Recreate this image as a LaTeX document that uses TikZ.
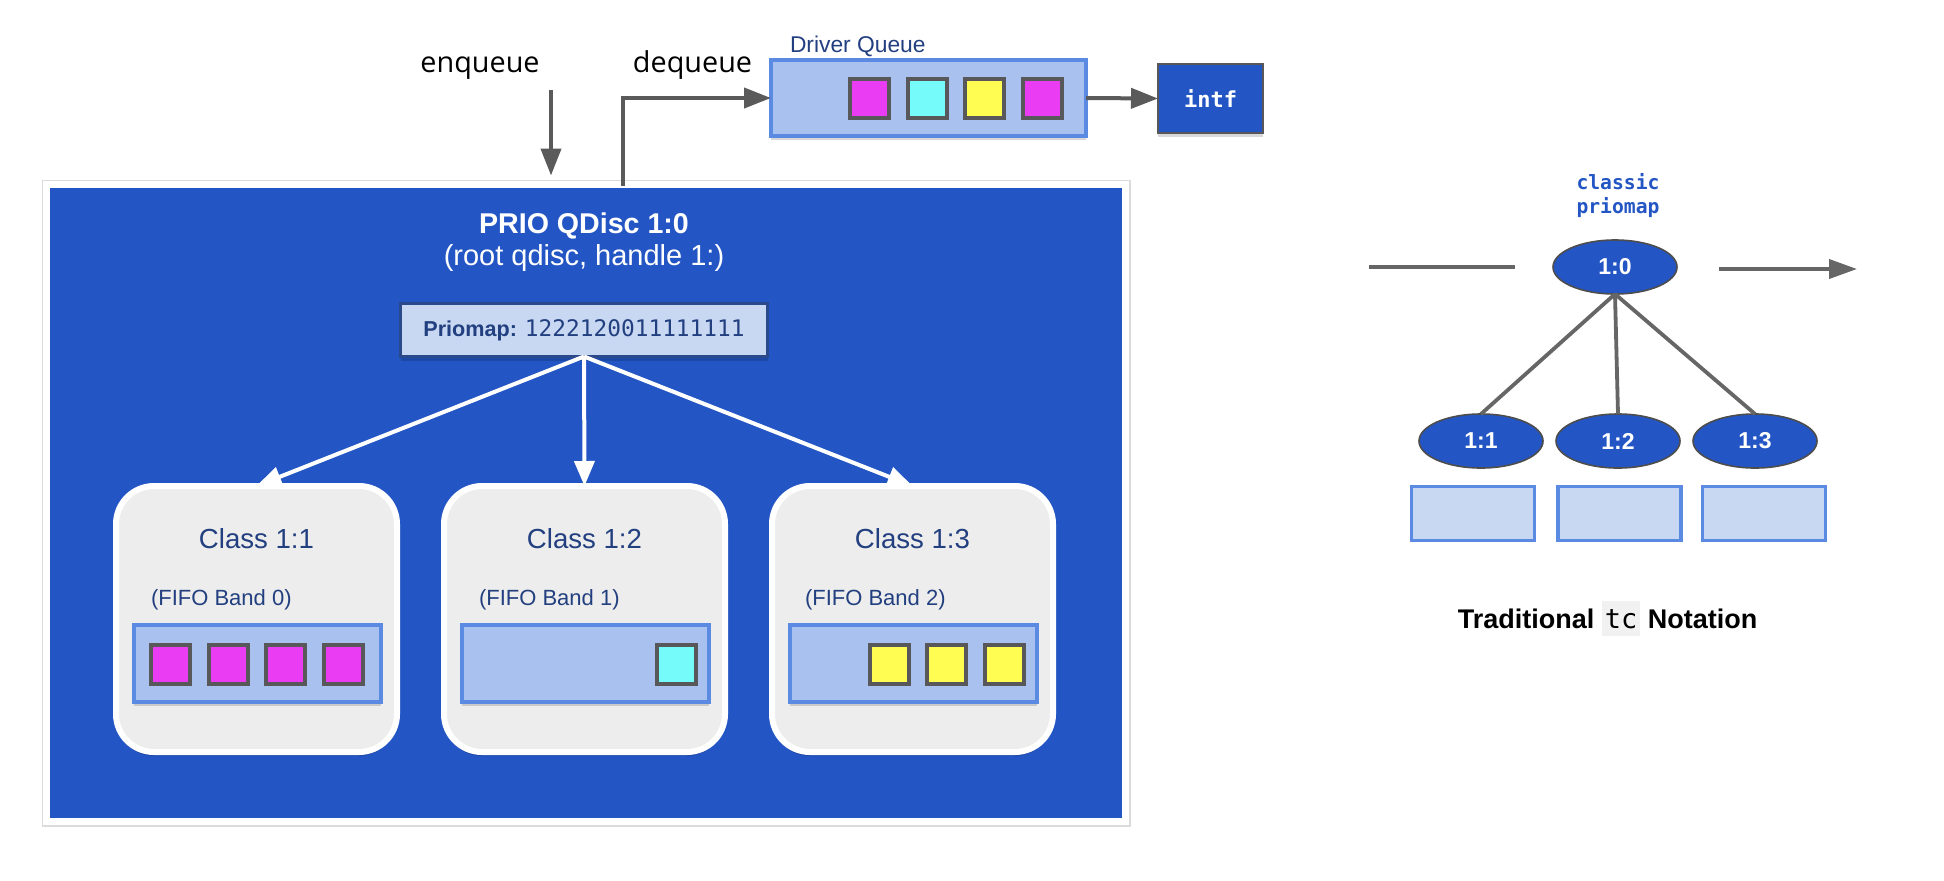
\documentclass[tikz,border=0pt]{standalone}
\usepackage{fontspec}
\setmainfont{Liberation Sans}
\newfontfamily\osans{Open Sans}
\newfontfamily\monof{DejaVu Sans Mono}
\usetikzlibrary{arrows.meta,shapes.geometric,shadows,calc}
\definecolor{qblue}{HTML}{2356C4}
\definecolor{qfill}{HTML}{A9C1EF}
\definecolor{qborder}{HTML}{5A8AE2}
\definecolor{pale}{HTML}{C9D8F2}
\definecolor{navytext}{HTML}{223F7F}
\definecolor{pmborder}{HTML}{2B4A8B}
\definecolor{sqgray}{HTML}{58585A}
\definecolor{pmag}{HTML}{E93CF3}
\definecolor{pcyan}{HTML}{76FBFB}
\definecolor{pyel}{HTML}{FFFD51}
\definecolor{agray}{HTML}{5A5A5A}
\definecolor{tgray}{HTML}{666666}
\definecolor{ellgray}{HTML}{4D4D4D}
\definecolor{classgray}{HTML}{EDEDED}
\definecolor{codebg}{HTML}{F1F1F1}
\newcommand\fsz[1]{\fontsize{#1pt}{#1pt}\selectfont}
\newcommand\tcbg[1]{{\setlength{\fboxsep}{0pt}\colorbox{codebg}{\rule[-4pt]{0pt}{17.5pt}\hspace{1.5pt}{\monof\mdseries #1}\hspace{1.5pt}}}}
\begin{document}
\begin{tikzpicture}[x=0.5pt,y=-0.5pt,
  every node/.style={inner sep=0pt,outer sep=0pt},
  shad/.style={drop shadow={shadow xshift=0pt,shadow yshift=-2pt,opacity=0.15,fill=black}},
  lbl/.style={anchor=base,inner sep=0pt},
  mainbox/.style={draw=white,line width=3.5pt,fill=qblue,minimum width=539.5pt,minimum height=318.5pt,shad,
    preaction={draw=black!14,line width=5pt}},
  classbox/.style={draw=white,line width=3pt,fill=classgray,rounded corners=19pt,minimum width=140.5pt,minimum height=133pt,shad},
  queuebox/.style={draw=qborder,line width=2pt,fill=qfill,shad},
  cq/.style={queuebox,minimum width=123.5pt,minimum height=38.5pt},
  pkt/.style={draw=sqgray,line width=2pt,minimum size=19.5pt},
  pmbox/.style={draw=pmborder,line width=1.5pt,fill=pale,minimum width=183.5pt,minimum height=26.5pt,text=navytext,font=\fsz{10.8},shad},
  intfbox/.style={draw=sqgray,line width=1pt,fill=qblue,minimum width=52.5pt,minimum height=34.5pt,text=white,font=\monof\bfseries\fsz{11},shad},
  garrow/.style={draw=agray,line width=2pt,-{Triangle[length=13.5pt,width=10pt]}},
  warrow/.style={draw=white,line width=2pt,-{Triangle[length=12.5pt,width=10pt]}},
  classlbl/.style={lbl,text=navytext,font=\fsz{13.8}},
  bandlbl/.style={lbl,anchor=base west,text=navytext,font=\fsz{11}},
  tcell/.style={ellipse,fill=qblue,draw=ellgray,line width=0.8pt,minimum width=62pt,minimum height=27pt,text=white,font=\bfseries\fsz{11.5}},
  tline/.style={draw=tgray,line width=1.9pt},
  bandrect/.style={draw=qborder,line width=1.6pt,fill=pale,minimum width=61.5pt,minimum height=27pt}
]
\useasboundingbox (0,0) rectangle (1944,880);

% top labels and driver queue
\node[lbl,font=\osans\fsz{14.4}] (enq) at (480,72) {enqueue};
\node[lbl,font=\osans\fsz{14.4}] (deq) at (692.5,72) {dequeue};
\node[lbl,anchor=base west,text=navytext,font=\fsz{11.4}] (dqlabel) at (790,52) {Driver Queue};
\node[queuebox,minimum width=157.5pt,minimum height=38pt] (drvq) at (928.5,98) {};
\node[pkt,fill=pmag] (d1) at (869,98.5) {};
\node[pkt,fill=pcyan] (d2) at (927,98.5) {};
\node[pkt,fill=pyel] (d3) at (984,98.5) {};
\node[pkt,fill=pmag] (d4) at (1042,98.5) {};
\node[intfbox] (intf) at (1210.5,98.5) {intf};

% main qdisc box
\node[mainbox] (qdisc) at (586,503) {};
\node[lbl,text=white,font=\bfseries\fsz{14.3}] (qtitle) at (584,233) {PRIO QDisc 1:0};
\node[lbl,text=white,font=\fsz{14.5}] (qsub) at (584,265) {(root qdisc, handle 1:)};
\node[pmbox] (pm) at (584,330) {\textbf{Priomap:} {\monof\fsz{11.4}1222120011111111}};

% connectors at the top
\coordinate (enqtop) at (551,90);
\coordinate (deqbot) at (623,186);
\draw[garrow,shorten >=4.5pt] (enqtop) -- (enqtop |- qdisc.north);
\draw[garrow] (deqbot) |- (drvq.west);
\draw[garrow] (drvq.east) -- (intf.west);

% classes
\node[classbox] (c1) at (256.5,619) {};
\node[classbox] (c2) at (584.5,619) {};
\node[classbox] (c3) at (912.5,619) {};
\node[classlbl] (c1t) at (256.5,548) {Class 1:1};
\node[classlbl] (c2t) at (584.5,548) {Class 1:2};
\node[classlbl] (c3t) at (912.5,548) {Class 1:3};
\node[bandlbl] (c1b) at (151,605) {(FIFO Band 0)};
\node[bandlbl] (c2b) at (479,605) {(FIFO Band 1)};
\node[bandlbl] (c3b) at (805,605) {(FIFO Band 2)};
\node[cq] (q1) at (257.5,663.5) {};
\node[cq] (q2) at (585.5,663.5) {};
\node[cq] (q3) at (913.5,663.5) {};
\node[pkt,fill=pmag] (p11) at (170.5,664) {};
\node[pkt,fill=pmag] (p12) at (228,664) {};
\node[pkt,fill=pmag] (p13) at (285.5,664) {};
\node[pkt,fill=pmag] (p14) at (343,664) {};
\node[pkt,fill=pcyan] (p21) at (676.5,664) {};
\node[pkt,fill=pyel] (p31) at (889.5,664) {};
\node[pkt,fill=pyel] (p32) at (946.5,664) {};
\node[pkt,fill=pyel] (p33) at (1004,664) {};

\draw[warrow] (pm.south) -- (c1.north);
\draw[warrow] (pm.south) -- (c2.north);
\draw[warrow] (pm.south) -- (c3.north);

% traditional tc notation
\node[lbl,text=qblue,font=\monof\bfseries\fsz{9.85}] (cp1) at (1618,189) {classic};
\node[lbl,text=qblue,font=\monof\bfseries\fsz{9.85}] (cp2) at (1618,213) {priomap};
\node[tcell] (r10) at (1615,267) {1:0};
\node[tcell] (r11) at (1481,441) {1:1};
\node[tcell] (r12) at (1618,441) {1:2};
\node[tcell] (r13) at (1755,441) {1:3};
\draw[tline] (r10.south) -- (r11.north);
\draw[tline] (r10.south) -- (r12.north);
\draw[tline] (r10.south) -- (r13.north);
\coordinate (inA) at (1369,267);
\coordinate (inB) at (1515,267);
\coordinate (outA) at (1719,269);
\coordinate (outB) at (1857,269);
\draw[tline] (inA) -- (inB);
\draw[tline,-{Triangle[length=14pt,width=9.5pt]}] (outA) -- (outB);
\node[bandrect] (b11) at (1473,513.5) {};
\node[bandrect] (b12) at (1619.5,513.5) {};
\node[bandrect] (b13) at (1764,513.5) {};
\node[lbl,font=\bfseries\fsz{13.5}] (tt) at (1607.5,628) {Traditional \tcbg{tc} Notation};
\end{tikzpicture}
\end{document}
